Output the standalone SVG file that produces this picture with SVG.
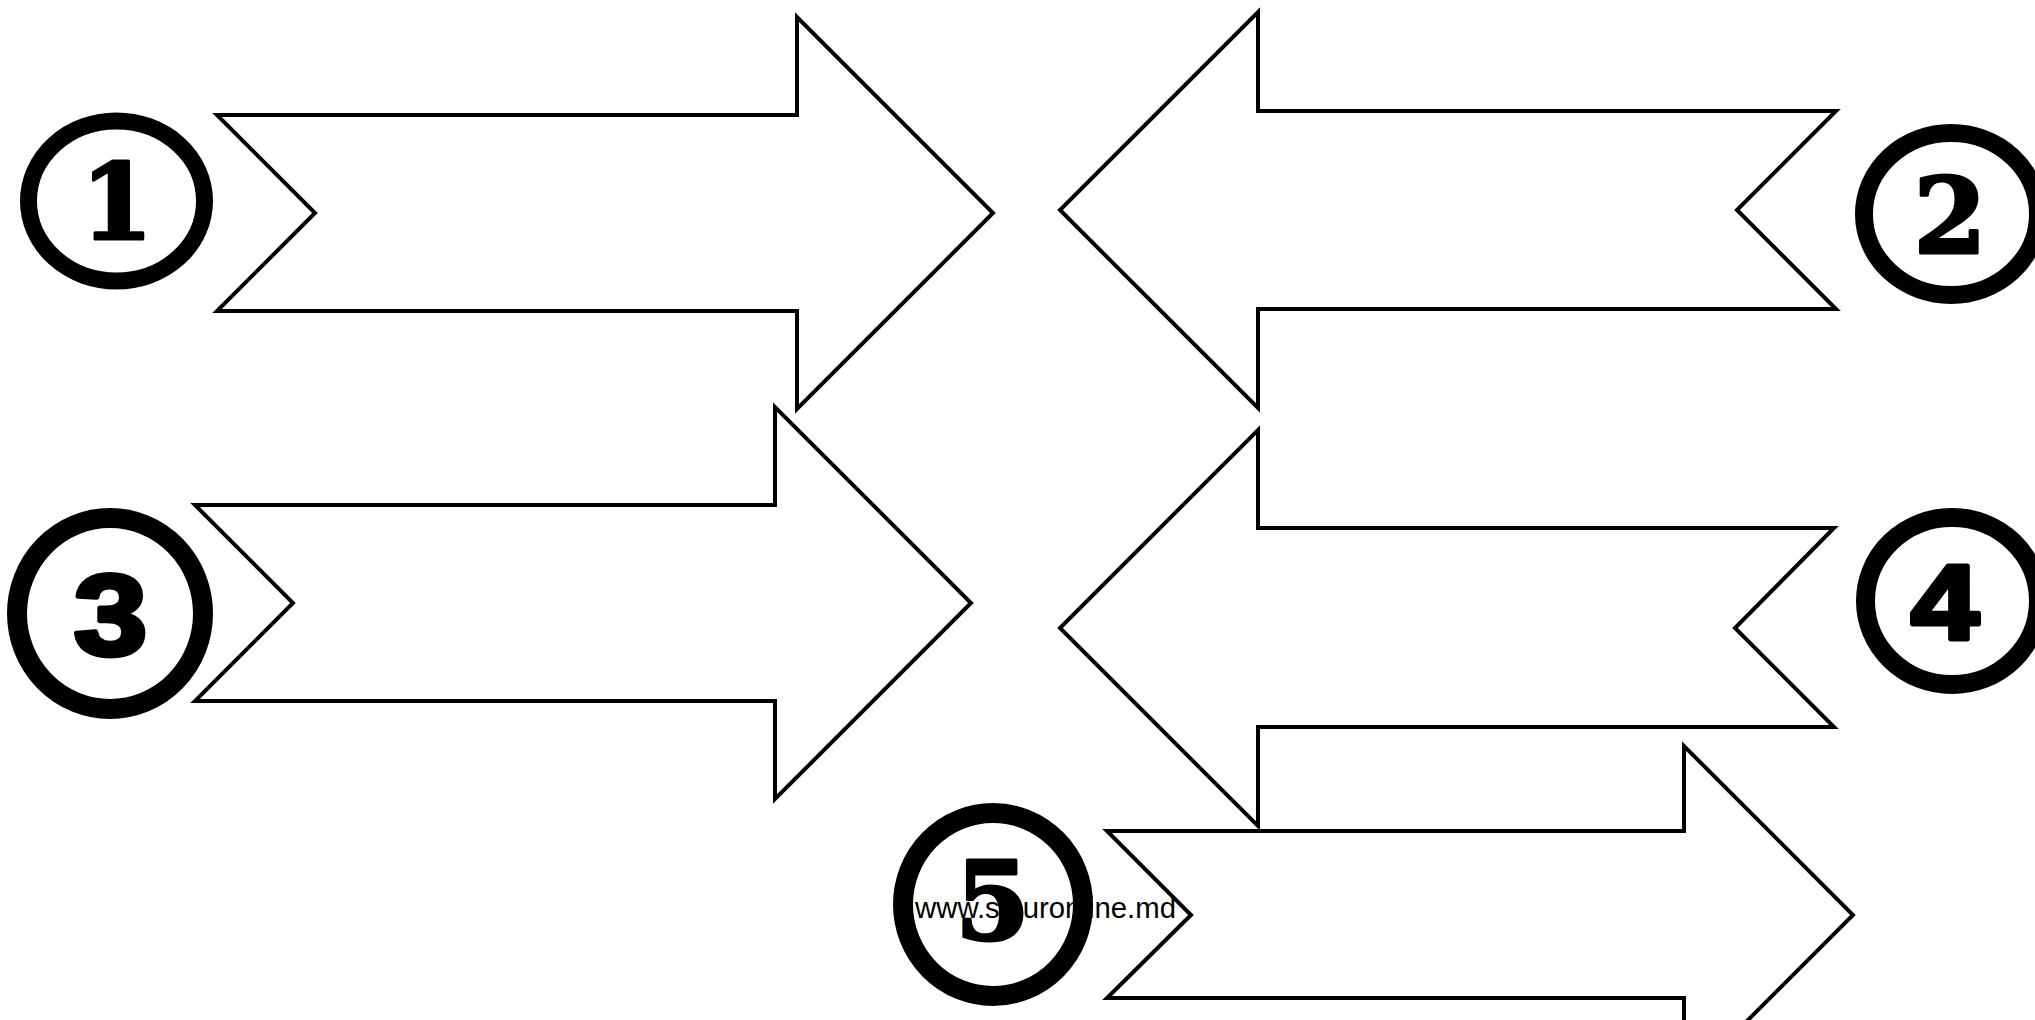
<svg xmlns="http://www.w3.org/2000/svg" width="2035" height="1020" viewBox="0 0 2035 1020">
<style>
.arrow{fill:#fff;stroke:#000;stroke-width:4;stroke-linejoin:miter;stroke-miterlimit:10}
.ring{fill:#fff;stroke:#000}
.dserif{font-family:"DejaVu Serif","Liberation Serif",serif;font-weight:bold;fill:#000;stroke:#000;stroke-width:3;stroke-linejoin:round;text-anchor:middle}
.dsans{font-family:"Liberation Sans",Arial,sans-serif;font-weight:bold;fill:#000;stroke:#000;stroke-width:5;stroke-linejoin:round;text-anchor:middle}
.url{font-family:"Liberation Sans",Arial,sans-serif;font-size:29px;fill:#000}
</style>
<rect width="2035" height="1020" fill="#fff"/>
<g id="arrows">
<polygon id="arrow-1" class="arrow" points="217,115 797,115 797,17 993,213 797,409 797,311 217,311 315,213"/>
<polygon id="arrow-2" class="arrow" points="1836,111 1258,111 1258,12 1060,210 1258,408 1258,309 1836,309 1737,210"/>
<polygon id="arrow-3" class="arrow" points="195,505 775,505 775,407 971,603 775,799 775,701 195,701 293,603"/>
<polygon id="arrow-4" class="arrow" points="1834,528 1258,528 1258,430 1060,628 1258,826 1258,727 1834,727 1735,628"/>
<polygon id="arrow-5" class="arrow" points="1107,831 1684,831 1684,746 1853,915 1684,1084 1684,998 1107,998 1191,915"/>
</g>
<text id="url" class="url" x="915" y="918" textLength="261" lengthAdjust="spacingAndGlyphs">www.siguronline.md</text>
<g id="node-1">
<ellipse class="ring" cx="116.5" cy="201" rx="88" ry="80" stroke-width="17"/>
<text class="dserif" x="117" y="239" font-size="104">1</text>
</g>
<g id="node-2">
<ellipse class="ring" cx="1951" cy="214" rx="87" ry="81" stroke-width="18"/>
<text class="dserif" x="1950" y="253" font-size="105">2</text>
</g>
<g id="node-3">
<ellipse class="ring" cx="110" cy="613.5" rx="93" ry="95.5" stroke-width="20"/>
<text class="dsans" transform="translate(110.5,655) scale(1.15,1)" x="0" y="0" font-size="115">3</text>
</g>
<g id="node-4">
<ellipse class="ring" cx="1952" cy="601" rx="86.5" ry="83.5" stroke-width="19"/>
<text class="dsans" transform="translate(1945,639) scale(1.15,1)" x="0" y="0" font-size="106">4</text>
</g>
<g id="node-5">
<ellipse cx="993" cy="904.5" rx="90" ry="91.5" fill="none" stroke="#000" stroke-width="20"/>
<text class="dserif" x="992.5" y="939" font-size="108">5</text>
</g>
</svg>
